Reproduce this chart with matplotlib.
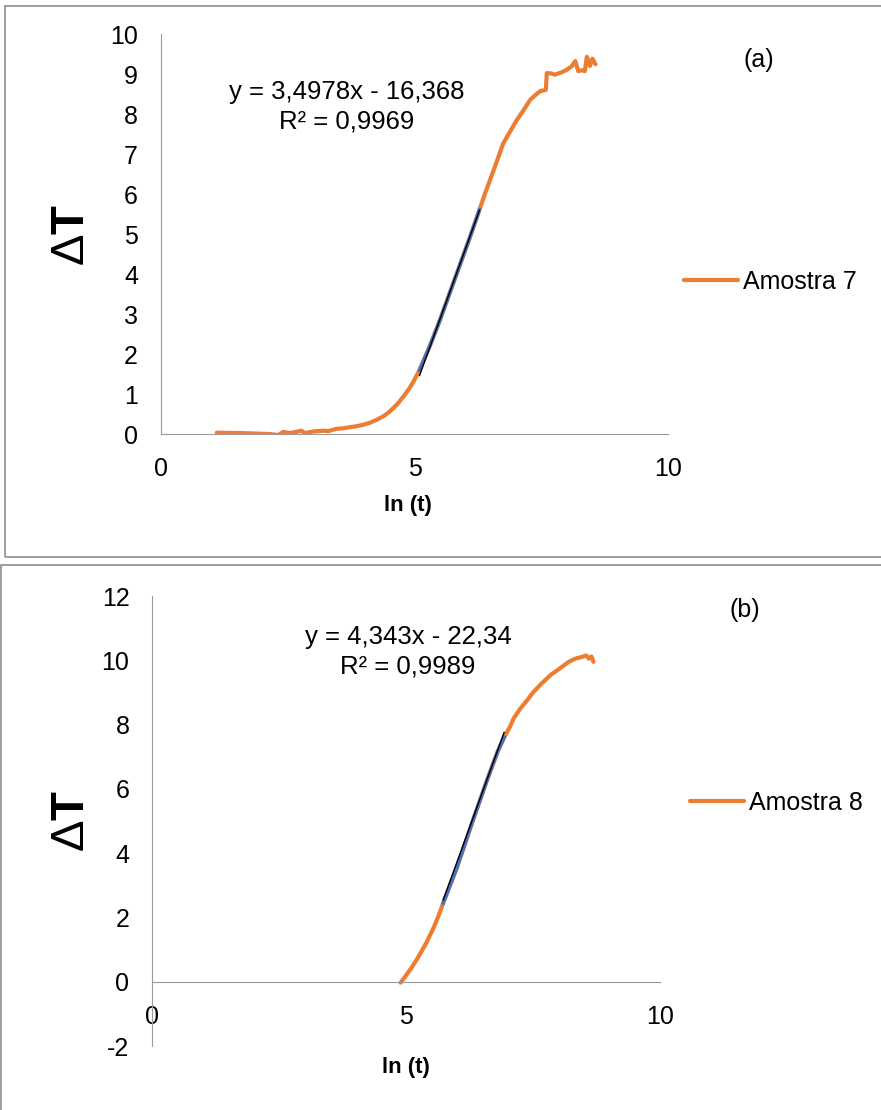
import numpy as np
import matplotlib.pyplot as plt
from matplotlib.patches import Rectangle

plt.rcParams['font.family'] = ['Liberation Sans', 'DejaVu Sans']
plt.rcParams['mathtext.fontset'] = 'custom'
plt.rcParams['mathtext.rm'] = 'Liberation Sans'
plt.rcParams['mathtext.bf'] = 'Liberation Sans:bold'
plt.rcParams['axes.unicode_minus'] = False

# Amostra 7 - ln(t) x delta T
ln_t_7 = [1.10, 1.60, 2.08, 2.20, 2.31, 2.41, 2.55, 2.77, 2.84, 3.00, 3.20, 3.30,
          3.47, 3.60, 3.73, 3.85, 3.99, 4.10, 4.25, 4.40, 4.52, 4.65, 4.78, 4.90,
          4.98, 5.10, 5.30, 5.50, 5.70, 5.90, 6.10, 6.28, 6.40, 6.56, 6.75, 6.90,
          7.02, 7.15, 7.28, 7.40, 7.48, 7.59, 7.61, 7.70, 7.77, 7.90, 8.00, 8.10,
          8.17, 8.23, 8.30, 8.36, 8.40, 8.46, 8.51, 8.57]
dT_7 = [0.04, 0.03, 0.01, 0.00, -0.02, 0.06, 0.03, 0.09, 0.03, 0.07, 0.09, 0.08,
        0.14, 0.15, 0.18, 0.20, 0.24, 0.28, 0.36, 0.46, 0.58, 0.74, 0.94, 1.15,
        1.32, 1.61, 2.20, 2.85, 3.55, 4.25, 4.95, 5.61, 6.05, 6.60, 7.27, 7.60,
        7.86, 8.10, 8.36, 8.50, 8.58, 8.61, 9.03, 9.02, 8.99, 9.05, 9.11, 9.20,
        9.33, 9.08, 9.10, 9.08, 9.44, 9.21, 9.39, 9.25]
fit_range_7 = (5.10, 6.28)
slope_7, inter_7, r2_7 = 3.4978, -16.368, 0.9969

# Amostra 8
ln_t_8 = [4.89, 5.00, 5.10, 5.20, 5.28, 5.40, 5.55, 5.65, 5.73, 6.00, 6.30, 6.60,
          6.80, 6.93, 7.05, 7.12, 7.25, 7.38, 7.50, 7.65, 7.85, 8.03, 8.20, 8.33,
          8.45, 8.55, 8.60, 8.65, 8.69]
dT_8 = [-0.03, 0.20, 0.42, 0.67, 0.88, 1.22, 1.71, 2.10, 2.45, 3.55, 4.95, 6.30,
        7.15, 7.60, 7.95, 8.20, 8.50, 8.75, 9.00, 9.25, 9.55, 9.75, 9.95, 10.05,
        10.10, 10.15, 10.05, 10.12, 9.95]
fit_range_8 = (5.73, 6.93)
slope_8, inter_8, r2_8 = 4.343, -22.34, 0.9989

ORANGE = '#ED7D31'
BLUE = '#4472C4'
AXIS = '#9a9a9a'

W, H = 881, 1110
fig = plt.figure(figsize=(W / 100, H / 100), dpi=100)


def fx(px):
    return px / W


def fy(py):
    return 1 - py / H


# panel frames
fig.patches.append(Rectangle((fx(5), fy(557)), 1, fy(6) - fy(557), transform=fig.transFigure,
                             fill=False, edgecolor='#8c8c8c', linewidth=1.2))
fig.patches.append(Rectangle((fx(0.5), fy(1115)), 1, fy(565) - fy(1115), transform=fig.transFigure,
                             fill=False, edgecolor='#8c8c8c', linewidth=1.2))


def draw_panel(box, x, y, fit_range, slope, inter, r2, ylim, yticks, name, tag,
               eq_pos, tag_pos, leg_pos, ylab_pos, xlab_pos):
    left, top, right, bottom = box
    ax = fig.add_axes([fx(left), fy(bottom), fx(right) - fx(left), fy(top) - fy(bottom)])
    x = np.array(x)
    y = np.array(y)
    ax.plot(x, y, color=ORANGE, linewidth=3, solid_capstyle='round', label=name, zorder=2)
    sel = (x >= fit_range[0]) & (x <= fit_range[1])
    ax.plot(x[sel], y[sel], color=BLUE, linewidth=2.6, zorder=3)
    xf = np.array(fit_range)
    ax.plot(xf, slope * xf + inter, color='black', linewidth=1, zorder=4)

    ax.set_xlim(0, 10)
    ax.set_ylim(*ylim)
    ax.set_xticks([0, 5, 10])
    ax.set_yticks(yticks)
    ax.tick_params(length=0, labelsize=18, pad=16.5)
    for s in ['top', 'right']:
        ax.spines[s].set_visible(False)
    ax.spines['left'].set_color(AXIS)
    ax.spines['bottom'].set_color(AXIS)
    ax.spines['bottom'].set_position(('data', 0))
    ax.patch.set_alpha(0)

    eq = 'y = {}x - {}'.format(str(slope).replace('.', ','), str(-inter).replace('.', ','))
    fig.text(fx(eq_pos[0]), fy(eq_pos[1]), eq + '\nR² = ' + str(r2).replace('.', ','),
             ha='center', va='center', fontsize=18.5, linespacing=1.3)
    fig.text(fx(tag_pos[0]), fy(tag_pos[1]), tag, ha='center', va='center', fontsize=18)
    fig.text(fx(ylab_pos[0]), fy(ylab_pos[1]), r'$\Delta\mathbf{T}$', rotation=90,
             ha='center', va='center', fontsize=34)
    fig.text(fx(xlab_pos[0]), fy(xlab_pos[1]), 'ln (t)', ha='center', va='center',
             fontsize=16, fontweight='bold')
    ax.legend(loc='center left', bbox_to_anchor=(fx(leg_pos[0]), fy(leg_pos[1])),
              bbox_transform=fig.transFigure, frameon=False, fontsize=18,
              handlelength=2.15, handletextpad=0.2, borderpad=0, borderaxespad=0)
    return ax


draw_panel((161, 34.3, 668, 434.3), ln_t_7, dT_7, fit_range_7, slope_7, inter_7, r2_7,
           (0, 10), range(0, 11), 'Amostra 7', '(a)',
           (347, 107), (759, 60), (684, 282), (72, 235), (408, 506))
draw_panel((152.3, 596, 660, 1046), ln_t_8, dT_8, fit_range_8, slope_8, inter_8, r2_8,
           (-2, 12), range(-2, 13, 2), 'Amostra 8', '(b)',
           (408, 652), (745, 610), (690, 803), (72, 821), (406, 1068))

fig.savefig('out.png', dpi=100)
